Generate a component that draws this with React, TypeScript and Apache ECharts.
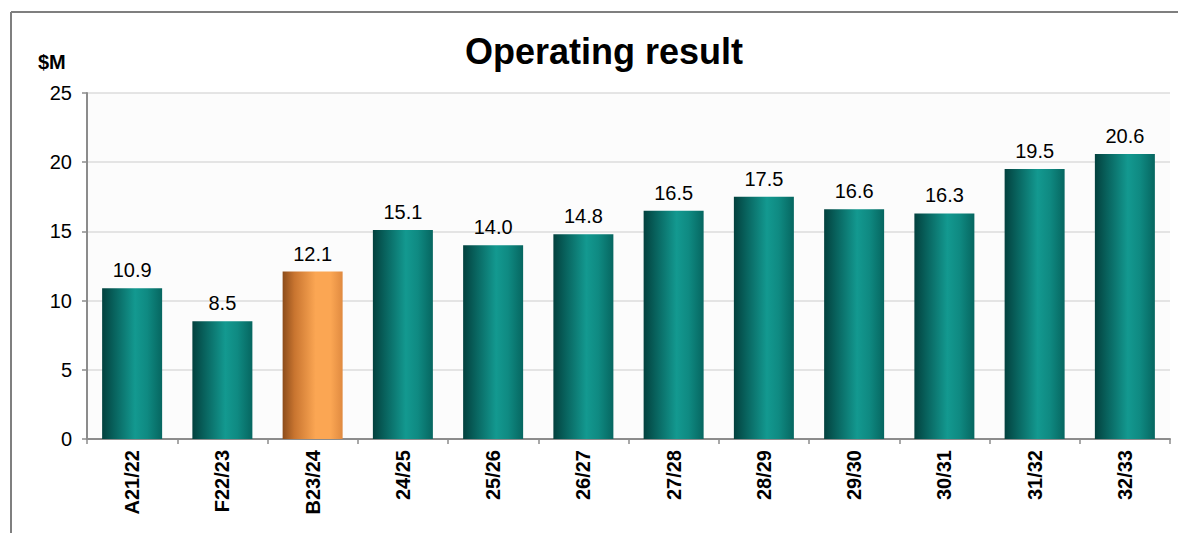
import React, { useEffect, useRef } from "react";
import * as echarts from "echarts";

const categories = ["A21/22", "F22/23", "B23/24", "24/25", "25/26", "26/27", "27/28", "28/29", "29/30", "30/31", "31/32", "32/33"];
const values = [10.9, 8.5, 12.1, 15.1, 14.0, 14.8, 16.5, 17.5, 16.6, 16.3, 19.5, 20.6];
const highlightIndex = 2;

const teal = new echarts.graphic.LinearGradient(0, 0, 1, 0, [
  { offset: 0, color: "#03413e" },
  { offset: 0.2, color: "#08625d" },
  { offset: 0.55, color: "#139990" },
  { offset: 0.75, color: "#0f8a82" },
  { offset: 1, color: "#066660" },
]);
const orange = new echarts.graphic.LinearGradient(0, 0, 1, 0, [
  { offset: 0, color: "#8c4c1a" },
  { offset: 0.2, color: "#c97530" },
  { offset: 0.55, color: "#fba653" },
  { offset: 0.8, color: "#fba653" },
  { offset: 1, color: "#e08a40" },
]);

export default function App() {
  const ref = useRef<HTMLDivElement>(null);
  useEffect(() => {
    const chart = echarts.init(ref.current!, null, { renderer: "svg" });
    chart.setOption({
      animation: false,
      backgroundColor: "#ffffff",
      title: {
        text: "Operating result",
        left: 599,
        top: 28,
        textAlign: "center",
        textStyle: { fontFamily: "Liberation Sans, Arial", fontSize: 36, fontWeight: "bold", color: "#000" },
      },
      graphic: [
        { type: "line", shape: { x1: 11, y1: 12, x2: 1178, y2: 12 }, style: { stroke: "#7f7f7f", lineWidth: 2 } },
        { type: "line", shape: { x1: 11, y1: 12, x2: 11, y2: 533 }, style: { stroke: "#7f7f7f", lineWidth: 2 } },
        {
          type: "text",
          left: 38,
          top: 52,
          style: { text: "$M", font: "bold 20px 'Liberation Sans', Arial", fill: "#000" },
        },
      ],
      grid: { left: 87, right: 8, top: 93, bottom: 94, show: true, backgroundColor: "#fcfcfc", borderWidth: 0 },
      xAxis: {
        type: "category",
        data: categories,
        axisLine: { show: true, lineStyle: { color: "#8c8c8c", width: 2 } },
        axisTick: { show: true, length: 5, lineStyle: { color: "#8c8c8c", width: 1.5 } },
        axisLabel: {
          rotate: 90,
          interval: 0,
          margin: 11,
          fontFamily: "Liberation Sans, Arial",
          fontSize: 20,
          fontWeight: "bold",
          color: "#000",
        },
      },
      yAxis: {
        type: "value",
        min: 0,
        max: 25,
        interval: 5,
        axisLine: { show: true, lineStyle: { color: "#8c8c8c", width: 2 } },
        axisTick: { show: true, length: 5, lineStyle: { color: "#8c8c8c", width: 1.5 } },
        axisLabel: { fontFamily: "Liberation Sans, Arial", fontSize: 20, color: "#000", margin: 15 },
        splitLine: { lineStyle: { color: "#dcdcdc", width: 1.5 } },
      },
      series: [
        {
          type: "bar",
          barWidth: 60,
          data: values.map((v, i) => ({
            value: v,
            itemStyle: { color: i === highlightIndex ? orange : teal },
          })),
          label: {
            show: true,
            position: "top",
            distance: 8,
            formatter: (p: any) => Number(p.value).toFixed(1),
            fontFamily: "Liberation Sans, Arial",
            fontSize: 20,
            color: "#000",
          },
        },
      ],
    });
    return () => chart.dispose();
  }, []);
  return <div ref={ref} style={{ width: 1178, height: 533, position: "absolute", left: 0, top: 0 }} />;
}
